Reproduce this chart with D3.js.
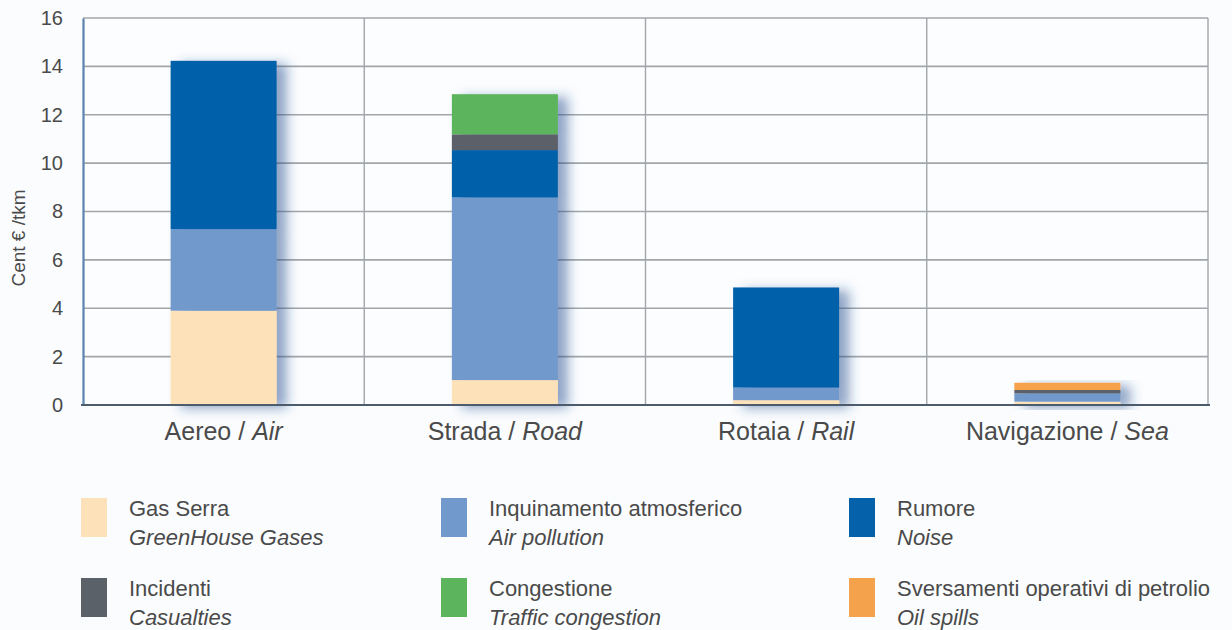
<!DOCTYPE html>
<html>
<head>
<meta charset="utf-8">
<script src="https://cdn.jsdelivr.net/npm/d3@7"></script>
<style>
  html, body { margin: 0; padding: 0; background: #fafcfe; }
  svg { display: block; }
  text { font-family: "Liberation Sans", Arial, sans-serif; fill: #4a4a4a; }
</style>
</head>
<body>
<svg id="chart" width="1232" height="630"></svg>
<script>
// Transport modes (x categories)
const modes = ["Aereo", "Strada", "Rotaia", "Navigazione"];
const modesEn = ["Air", "Road", "Rail", "Sea"];

// External cost components, stacked bottom to top
const costKeys = ["ghg", "air", "noise", "casualties", "congestion", "oil"];
const costIt = ["Gas Serra", "Inquinamento atmosferico", "Rumore", "Incidenti", "Congestione", "Sversamenti operativi di petrolio"];
const costEn = ["GreenHouse Gases", "Air pollution", "Noise", "Casualties", "Traffic congestion", "Oil spills"];
const costColors = ["#fde1b8", "#7199cc", "#0561aa", "#5b6168", "#5cb45c", "#f5a24c"];

// Values in cent € per tkm, one array per component (Air, Road, Rail, Sea)
const ghg        = [3.90, 1.03, 0.20, 0.14];
const airPoll    = [3.37, 7.55, 0.52, 0.34];
const noise      = [6.96, 1.96, 4.14, 0.00];
const casualties = [0.00, 0.65, 0.00, 0.14];
const congestion = [0.00, 1.66, 0.00, 0.00];
const oilSpills  = [0.00, 0.00, 0.00, 0.30];

// Y axis ticks
const yTicks = [0, 2, 4, 6, 8, 10, 12, 14, 16];

const series = [ghg, airPoll, noise, casualties, congestion, oilSpills];
const rows = modes.map((m, i) => {
  const r = { mode: m };
  costKeys.forEach((k, j) => { r[k] = series[j][i]; });
  return r;
});

const svg = d3.select("#chart");
const margin = { left: 83, right: 24, top: 18, bottom: 225 };
const W = 1232, H = 630;
const plotR = W - margin.right;
const plotB = H - margin.bottom;

const x = d3.scaleBand().domain(modes).range([margin.left, plotR]).padding(0);
const y = d3.scaleLinear().domain([0, 16]).range([plotB, margin.top]);
const color = d3.scaleOrdinal().domain(costKeys).range(costColors);

// Drop shadow for the stacked bars
const defs = svg.append("defs");
const f = defs.append("filter").attr("id", "barShadow")
  .attr("x", "-20%").attr("y", "-10%").attr("width", "160%").attr("height", "130%");
f.append("feDropShadow").attr("dx", 10).attr("dy", 3).attr("stdDeviation", 6)
  .attr("flood-color", "#1d4a8c").attr("flood-opacity", 0.5);

// Plot background
svg.append("rect").attr("x", margin.left).attr("y", margin.top)
  .attr("width", plotR - margin.left).attr("height", plotB - margin.top)
  .attr("fill", "#fbfdff");

// Horizontal gridlines
svg.append("g").selectAll("line").data(yTicks.filter(d => d > 0)).join("line")
  .attr("x1", margin.left).attr("x2", plotR)
  .attr("y1", d => y(d)).attr("y2", d => y(d))
  .attr("stroke", "#a3a6a9").attr("stroke-width", 1.6);

// Vertical separators between categories and right border
svg.append("g").selectAll("line").data(modes.slice(1).map(m => x(m)).concat([plotR])).join("line")
  .attr("x1", d => d).attr("x2", d => d)
  .attr("y1", margin.top).attr("y2", plotB)
  .attr("stroke", "#a3a6a9").attr("stroke-width", 1.4);

// Stacked bars
const stack = d3.stack().keys(costKeys)(rows);
const barW = x.bandwidth() * 0.377;
const groups = svg.append("g").selectAll("g").data(modes).join("g")
  .attr("filter", "url(#barShadow)");
groups.each(function(mode, i) {
  const g = d3.select(this);
  stack.forEach(layer => {
    const seg = layer[i];
    if (seg[1] - seg[0] <= 0) return;
    g.append("rect")
      .attr("x", x(mode) + x.bandwidth() / 2 - barW / 2)
      .attr("width", barW)
      .attr("y", y(seg[1]))
      .attr("height", y(seg[0]) - y(seg[1]))
      .attr("fill", color(layer.key));
  });
});

// Y axis
const yAxis = svg.append("g").attr("transform", `translate(${margin.left},0)`)
  .call(d3.axisLeft(y).tickValues(yTicks).tickSize(0).tickPadding(20));
yAxis.select(".domain").attr("stroke", "#5d82b0").attr("stroke-width", 2.2);
yAxis.selectAll("text").style("font-size", "20px").attr("fill", "#505050")
  .style("font-family", "'Liberation Sans', Arial, sans-serif");

// X baseline
svg.append("line").attr("x1", margin.left - 2).attr("x2", plotR + 2)
  .attr("y1", plotB).attr("y2", plotB)
  .attr("stroke", "#4d5c6c").attr("stroke-width", 2.2);

// Y axis title
svg.append("text")
  .attr("transform", `translate(25,238) rotate(-90)`)
  .attr("text-anchor", "middle").style("font-size", "19px")
  .text("Cent € /tkm");

// Category labels
const cat = svg.append("g").selectAll("text").data(modes).join("text")
  .attr("x", d => x(d) + x.bandwidth() / 2)
  .attr("y", plotB + 35)
  .attr("text-anchor", "middle").style("font-size", "25px").attr("fill", "#555");
cat.append("tspan").text((d) => d + " / ");
cat.append("tspan").style("font-style", "italic").text((d, i) => modesEn[i]);

// Legend: three columns, two rows
const legCols = [81, 441, 849];
const legRows = [498, 578];
const leg = svg.append("g").selectAll("g").data(costKeys).join("g")
  .attr("transform", (d, i) => `translate(${legCols[i % 3]},${legRows[Math.floor(i / 3)]})`);
leg.append("rect").attr("width", 26).attr("height", 39).attr("fill", d => color(d));
leg.append("text").attr("x", 48).attr("y", 18).style("font-size", "22px")
  .text((d, i) => costIt[i]);
leg.append("text").attr("x", 48).attr("y", 47).style("font-size", "22px")
  .style("font-style", "italic").text((d, i) => costEn[i]);
</script>
</body>
</html>
